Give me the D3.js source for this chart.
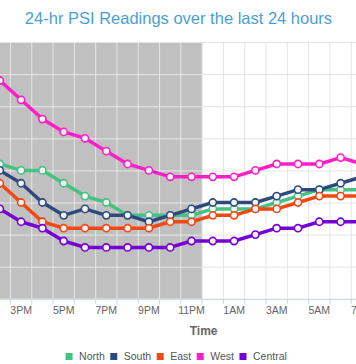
<!DOCTYPE html>
<html><head><meta charset="utf-8">
<script src="https://cdn.jsdelivr.net/npm/d3@7"></script>
<style>
html,body{margin:0;padding:0;background:#fff;overflow:hidden;}
svg{display:block;font-family:"Liberation Sans",Arial,sans-serif;}
</style></head>
<body><svg id="c" width="356" height="364"></svg>
<script>
// ---- data ----
const categories = ["2PM","3PM","4PM","5PM","6PM","7PM","8PM","9PM","10PM","11PM","12AM","1AM","2AM","3AM","4AM","5AM","6AM","7AM"];
const labelCategories = ["3PM","5PM","7PM","9PM","11PM","1AM","3AM","5AM","7AM"];
const seriesNames = ["North","South","East","West","Central"];
const seriesColors = ["#45c283","#2e4a7d","#f24812","#ff1fc8","#7400d4"];
const north   = [61,60,60,58,56,55,53,53,53,53,54,54,54,55,56,57,57,57];
const south   = [60,58,55,53,54,53,53,52,53,54,55,55,55,56,57,57,58,59];
const east    = [58,55,52,51,51,51,51,51,52,52,53,53,54,54,55,56,56,56];
const west    = [74,71,68,66,65,63,61,60,59,59,59,59,60,61,61,61,62,61];
const central = [54,52,51,49,48,48,48,48,48,49,49,49,50,51,51,52,52,52];
const yTicks = [40,45,50,55,60,65,70,75,80];
const bandEnd = "11PM";   // shaded plot band up to this category
const titleText = "24-hr PSI Readings over the last 24 hours";
const xTitle = "Time";

const seriesData = [north, south, east, west, central];

// ---- layout ----
const svg = d3.select("#c");
const step = 21.3;
const pLeft = -10.85;
const pTop = 42, pBottom = 298.8;
const x = d3.scaleBand().domain(categories).range([pLeft, pLeft + step*categories.length]).padding(0);
const cx = c => x(c) + x.bandwidth()/2;
const y = d3.scaleLinear().domain([yTicks[0], yTicks[yTicks.length-1]]).range([pBottom, pTop]);
const pRight = pLeft + step*categories.length;

// plot band
svg.append("rect")
  .attr("x", pLeft - 40).attr("y", pTop)
  .attr("width", x(bandEnd) + x.bandwidth() - (pLeft - 40))
  .attr("height", pBottom - pTop)
  .attr("fill", "#c0c0c0");

// horizontal grid
svg.append("g")
  .attr("transform", `translate(${pLeft-40},0)`)
  .call(d3.axisRight(y).tickValues(yTicks).tickSize(pRight + 40 - pLeft).tickFormat(""))
  .call(g => g.select(".domain").remove())
  .selectAll("line").attr("stroke", "#e6e6e6").attr("stroke-width", 1);

// vertical grid at category boundaries
const edges = categories.map(c => x(c)).concat([pRight]);
svg.append("g").selectAll("line").data(edges).join("line")
  .attr("x1", d => d).attr("x2", d => d)
  .attr("y1", pTop).attr("y2", pBottom)
  .attr("stroke", "#e6e6e6").attr("stroke-width", 1);

// x axis line and tick marks
svg.append("line").attr("x1", pLeft-40).attr("x2", pRight).attr("y1", pBottom+0.5).attr("y2", pBottom+0.5)
  .attr("stroke", "#ccd6eb");
svg.append("g").selectAll("line").data(edges).join("line")
  .attr("x1", d => d).attr("x2", d => d)
  .attr("y1", pBottom).attr("y2", pBottom + 5)
  .attr("stroke", "#ccd6eb");

// x labels
const xa = svg.append("g").attr("transform", `translate(0,${pBottom})`)
  .call(d3.axisBottom(x).tickValues(labelCategories).tickSize(0).tickPadding(8));
xa.select(".domain").remove();
xa.selectAll("text").attr("fill", "#666").attr("font-size", "10.5px")
  .attr("font-family", '"Liberation Sans",Arial,sans-serif');

// lines
const line = d3.line().x((d,i) => cx(categories[i])).y(d => y(d));
seriesData.forEach((vals, si) => {
  const g = svg.append("g");
  g.append("path").datum(vals).attr("d", line)
    .attr("fill", "none").attr("stroke", seriesColors[si]).attr("stroke-width", 3.5)
    .attr("stroke-linejoin", "round").attr("stroke-linecap", "round");
  g.selectAll("circle").data(vals).join("circle")
    .attr("cx", (d,i) => cx(categories[i])).attr("cy", d => y(d))
    .attr("r", 3.6).attr("fill", "#f4f4f6")
    .attr("stroke", seriesColors[si]).attr("stroke-width", 1.6);
});

// title
svg.append("text").attr("x", 178.5).attr("y", 23.5).attr("text-anchor", "middle")
  .attr("fill", "#4a9fd8").attr("font-size", "16.5px").text(titleText);

// x axis title
svg.append("text").attr("x", 203.6).attr("y", 334.5).attr("text-anchor", "middle")
  .attr("fill", "#666").attr("font-size", "12px").attr("font-weight", "bold").text(xTitle);

// legend
const lg = svg.append("g");
let lx = 0;
seriesNames.forEach((n, i) => {
  const it = lg.append("g").attr("transform", `translate(${lx},0)`);
  it.append("rect").attr("x", 0).attr("y", -6.5).attr("width", 7).attr("height", 7).attr("fill", seriesColors[i]);
  const t = it.append("text").attr("x", 13.5).attr("y", 0).attr("fill", "#555").attr("font-size", "10.5px").text(n);
  lx += 13.5 + t.node().getComputedTextLength() + 5.5;
});
const totalW = lx - 5.5;
lg.attr("transform", `translate(${176.2 - totalW/2},359.5)`);
</script></body></html>
